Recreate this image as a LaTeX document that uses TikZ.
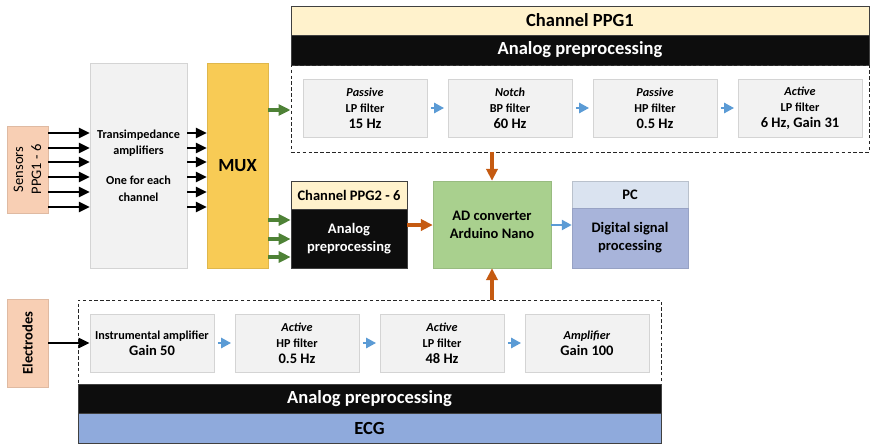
\documentclass[tikz,border=0pt]{standalone}
\usepackage{fontspec}
\setmainfont{Carlito}
\usepackage{tikz}
\usetikzlibrary{arrows.meta}
\definecolor{peach}{HTML}{F8CFB4}
\definecolor{boxgray}{HTML}{F2F2F2}
\definecolor{boxline}{HTML}{D4D4D4}
\definecolor{muxgold}{HTML}{F8CB55}
\definecolor{headyellow}{HTML}{FFF2CC}
\definecolor{barblack}{HTML}{0D0D0D}
\definecolor{adgreen}{HTML}{A9D08E}
\definecolor{pclight}{HTML}{DAE3F0}
\definecolor{pcdark}{HTML}{A8B4DA}
\definecolor{ecgblue}{HTML}{8FAADC}
\definecolor{arrblue}{HTML}{5B9BD5}
\definecolor{arrgreen}{HTML}{4E8236}
\definecolor{arrorange}{HTML}{C55A11}
\newcommand{\fxs}{\fontsize{10.4pt}{13.8pt}\selectfont}
\newcommand{\fsm}{\fontsize{12.4pt}{15.4pt}\selectfont}
\newcommand{\fbg}{\fontsize{15.8pt}{19pt}\selectfont}

\begin{document}
\begin{tikzpicture}[x=0.03cm,y=-0.03cm,
    filt/.style={draw=boxline,fill=boxgray,line width=0.6pt,minimum width=3.72cm,
      minimum height=1.74cm,align=center,font=\bfseries\fxs,inner sep=0pt},
    head/.style={draw=black!75,fill=headyellow,line width=0.5pt,font=\bfseries\fsm,inner sep=0pt},
    blackbar/.style={draw=black!75,fill=barblack,text=white,line width=0.5pt,inner sep=0pt},
    dashbox/.style={draw=black!85,densely dashed,line width=0.8pt,inner sep=0pt},
    sidebox/.style={draw=peach!90!black,fill=peach,rotate=90,inner sep=0pt,align=center},
    blkarrow/.style={-{Triangle[length=0.33cm,width=0.3cm]},line width=2.2pt},
    bluearrow/.style={-{Triangle[length=0.3cm,width=0.3cm]},line width=2.5pt,arrblue,
      shorten <=3pt,shorten >=3pt},
    greenarrow/.style={-{Triangle[length=0.36cm,width=0.33cm]},line width=3pt,arrgreen},
    orangearrow/.style={-{Triangle[length=0.36cm,width=0.34cm]},line width=2.6pt,arrorange}]
\useasboundingbox (0,0) rectangle (871,443);

% left column
\node[sidebox,minimum width=2.61cm,minimum height=1.23cm,font=\fsm] (sens) at (27.5,169.5) {Sensors\\PPG1 - 6};
\node[draw=boxline,fill=boxgray,minimum width=2.91cm,minimum height=6.15cm,
  align=center,font=\bfseries\fxs,inner sep=0pt] (trans) at (138.5,165.5)
  {Transimpedance\\amplifiers\\[12pt]One for each\\channel};
\node[draw=muxgold!90!black,fill=muxgold,minimum width=1.83cm,minimum height=6.15cm,
  font=\bfseries\fbg,inner sep=0pt] (mux) at (237.5,165.5) {MUX};
\node[sidebox,minimum width=2.64cm,minimum height=1.23cm,font=\bfseries\fsm] (elec) at (27.5,343) {Electrodes};

% channel PPG1
\node[head,minimum width=17.34cm,minimum height=0.87cm,font=\bfseries\fbg] (ppghead) at (580,20.5) {Channel PPG1};
\node[blackbar,minimum width=17.34cm,minimum height=0.9cm,font=\bfseries\fbg] (ppgbar) at (580,50) {Analog preprocessing};
\node[dashbox,minimum width=17.34cm,minimum height=2.61cm] (ppgdash) at (580,108.5) {};
\node[filt] (p1) at (365,108) {\textit{Passive}\\LP filter\\{\fsm 15 Hz}};
\node[filt] (p2) at (510,108) {\textit{Notch}\\BP filter\\{\fsm 60 Hz}};
\node[filt] (p3) at (655,108) {\textit{Passive}\\HP filter\\{\fsm 0.5 Hz}};
\node[filt] (p4) at (800,108) {\textit{Active}\\LP filter\\{\fsm 6 Hz, Gain 31}};

% channel PPG2 - 6
\node[head,minimum width=3.48cm,minimum height=0.84cm] (ppg2head) at (349,195) {Channel PPG2 - 6};
\node[blackbar,minimum width=3.48cm,minimum height=1.77cm,align=center,font=\bfseries\fsm] (ppg2body) at (349,238.5) {Analog\\preprocessing};

% converter and PC
\node[draw=adgreen!90!black,fill=adgreen,minimum width=3.54cm,minimum height=2.61cm,
  align=center,font=\bfseries\fsm,inner sep=0pt] (adc) at (492,224.5) {AD converter\\Arduino Nano};
\node[draw=pclight!85!black,fill=pclight,minimum width=3.48cm,minimum height=0.81cm,
  font=\bfseries\fsm,inner sep=0pt] (pchead) at (630,194.5) {PC};
\node[draw=pcdark!90!black,fill=pcdark,minimum width=3.48cm,minimum height=1.8cm,
  align=center,font=\bfseries\fsm,inner sep=0pt] (pcbody) at (630,238) {Digital signal\\processing};

% ECG
\node[dashbox,minimum width=17.49cm,minimum height=2.52cm] (ecgdash) at (369.5,342) {};
\node[filt] (e1) at (152,343) {Instrumental amplifier\\{\fsm Gain 50}};
\node[filt] (e2) at (297,343) {\textit{Active}\\HP filter\\{\fsm 0.5 Hz}};
\node[filt] (e3) at (442,343) {\textit{Active}\\LP filter\\{\fsm 48 Hz}};
\node[filt] (e4) at (587,343) {\textit{Amplifier}\\{\fsm Gain 100}};
\node[blackbar,minimum width=17.49cm,minimum height=0.87cm,font=\bfseries\fbg] (ecgbar) at (369.5,398.5) {Analog preprocessing};
\node[draw=black!75,fill=ecgblue,minimum width=17.49cm,minimum height=0.9cm,
  font=\bfseries\fbg,inner sep=0pt] (ecg) at (369.5,428) {ECG};

% arrows
\foreach \y in {133,148,162,177,192,207} {
  \draw[blkarrow] (sens.south |- 0,\y) -- (trans.west |- 0,\y);
  \draw[blkarrow] (trans.east |- 0,\y) -- (mux.west |- 0,\y);
}
\draw[greenarrow] (mux.east |- 0,110) -- (ppgdash.west |- 0,110);
\foreach \y in {220,239,257}
  \draw[greenarrow] (mux.east |- 0,\y) -- (ppg2body.west |- 0,\y);
\draw[bluearrow] (p1) -- (p2);
\draw[bluearrow] (p2) -- (p3);
\draw[bluearrow] (p3) -- (p4);
\draw[bluearrow] (e1) -- (e2);
\draw[bluearrow] (e2) -- (e3);
\draw[bluearrow] (e3) -- (e4);
\draw[orangearrow] (adc.north |- ppgdash.south) -- (adc.north);
\draw[orangearrow] (adc.south |- ecgdash.north) -- (adc.south);
\draw[orangearrow] (ppg2body.east |- 0,225) -- (adc.west |- 0,225);
\draw[bluearrow,shorten <=0pt,shorten >=0pt] (adc.east |- 0,225) -- (pcbody.west |- 0,225);
\draw[blkarrow] (elec.south) -- (e1.west);
\end{tikzpicture}
\end{document}
